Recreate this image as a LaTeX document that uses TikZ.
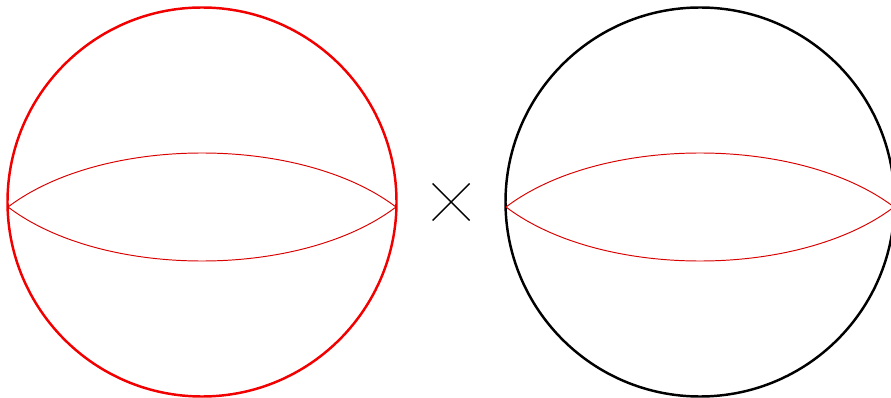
\documentclass[tikz,border=0pt]{standalone}
\usetikzlibrary{calc}

\begin{document}
\begin{tikzpicture}[x=0.02cm,y=-0.02cm,
 sphere/.style={line width=1.4pt},
 lens/.style={red!85!black,line width=0.55pt},
 cross/.style={line width=0.8pt}]
\useasboundingbox (0,0) rectangle (891,398);
% left factor
\coordinate (lc) at (202,202);
\coordinate (lw) at (8,207);
\coordinate (le) at (396,207);
\draw[sphere,red!95!black] (lc) circle (194.5);
\draw[lens] (lw) .. controls +(95,-72) and +(-95,-72) .. (le);
\draw[lens] (lw) .. controls +(95,72) and +(-95,72) .. (le);
% times sign
\coordinate (x) at (451,202);
\draw[cross] ($(x)+(-18.5,-18.5)$) -- ($(x)+(18.5,18.5)$);
\draw[cross] ($(x)+(-18.5,18.5)$) -- ($(x)+(18.5,-18.5)$);
% right factor
\coordinate (rc) at (700,202);
\coordinate (rw) at (506,207);
\coordinate (re) at (894,207);
\draw[sphere] (rc) circle (194.5);
\draw[lens] (rw) .. controls +(95,-72) and +(-95,-72) .. (re);
\draw[lens] (rw) .. controls +(95,72) and +(-95,72) .. (re);
\end{tikzpicture}
\end{document}
